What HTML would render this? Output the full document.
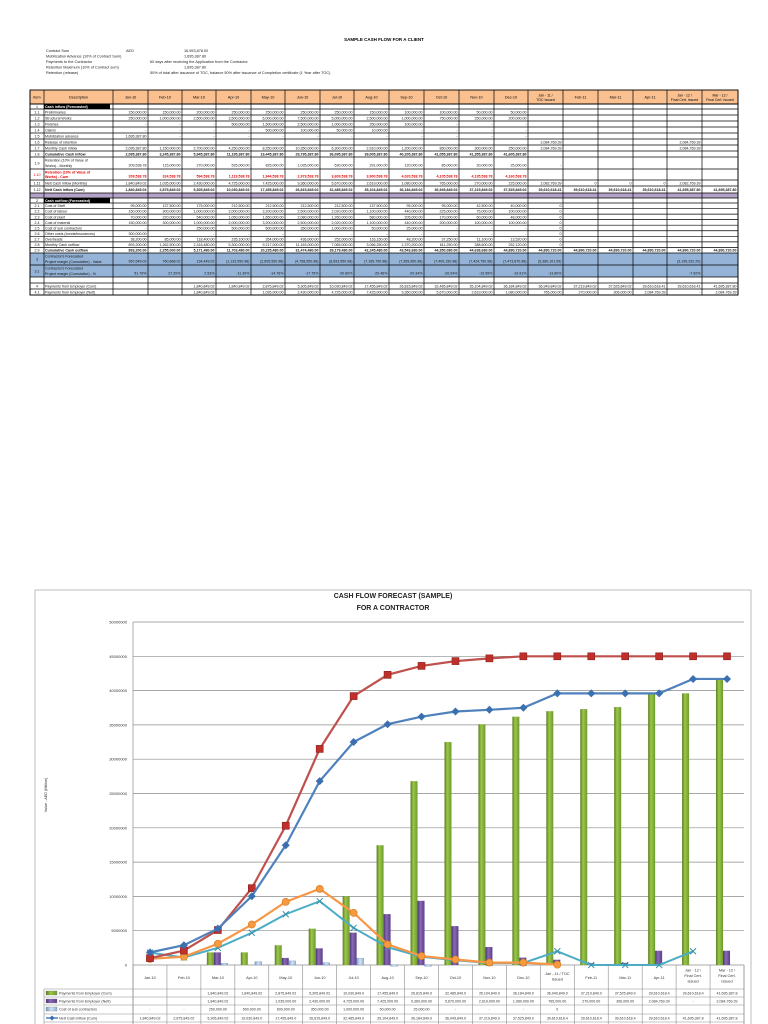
<!DOCTYPE html>
<html><head><meta charset="utf-8">
<style>
html,body{margin:0;padding:0;background:#fff;width:768px;height:1024px;overflow:hidden;font-family:"Liberation Sans",sans-serif;}
svg{position:absolute;left:0;top:0;}
</style></head>
<body>
<svg id="s" width="768" height="1024" viewBox="0 0 768 1024" xmlns="http://www.w3.org/2000/svg" font-family="Liberation Sans, sans-serif">
<defs>
<linearGradient id="gG" x1="0" x2="1"><stop offset="0" stop-color="#5a7a22"/><stop offset="0.4" stop-color="#9bc848"/><stop offset="1" stop-color="#6e9a2e"/></linearGradient>
<linearGradient id="gP" x1="0" x2="1"><stop offset="0" stop-color="#4a336e"/><stop offset="0.4" stop-color="#8a6ab8"/><stop offset="1" stop-color="#5a3f86"/></linearGradient>
<linearGradient id="gL" x1="0" x2="1"><stop offset="0" stop-color="#7a9cc8"/><stop offset="0.5" stop-color="#d6e4f4"/><stop offset="1" stop-color="#8fb0d6"/></linearGradient>
</defs>
<text x="384" y="41" font-size="4.5" font-weight="bold" text-anchor="middle">SAMPLE CASH FLOW FOR A CLIENT</text>
<g font-size="3.8" fill="#222">
<text x="46" y="52">Contract Sum</text><text x="126" y="52">AED</text><text x="184" y="52">16,953,878.00</text>
<text x="46" y="57.5">Mobilization Advance (10% of Contract Sum)</text><text x="184" y="57.5">1,695,387.80</text>
<text x="46" y="63">Payments to the Contractor</text><text x="150" y="63">60 days after receiving the Application from the Contractor</text>
<text x="46" y="68.5">Retention Maximum (10% of Contract sum)</text><text x="184" y="68.5">1,695,387.80</text>
<text x="46" y="74">Retention (release)</text><text x="150" y="74">50% of total after issuance of TOC, balance 50% after issuance of Completion certificate (1 Year after TOC)</text>
</g>
<g id="tbl"></g>
<rect x="35" y="590" width="716" height="440" fill="#fff" stroke="#bdbdbd" stroke-width="1"/>
<text x="393" y="598" font-size="7" font-weight="bold" text-anchor="middle" fill="#222">CASH FLOW FORECAST  (SAMPLE)</text>
<text x="393" y="610" font-size="7" font-weight="bold" text-anchor="middle" fill="#222">FOR A CONTRACTOR</text>
<text transform="translate(47,795) rotate(-90)" font-size="3.8" text-anchor="middle" fill="#333">Value - AED (Million)</text>
<g id="ch"></g>
</svg>
<script>
var NS="http://www.w3.org/2000/svg";
function el(p,t,a,txt){var e=document.createElementNS(NS,t);for(var k in a)e.setAttribute(k,a[k]);if(txt!==undefined)e.textContent=txt;p.appendChild(e);return e;}
var T=document.getElementById('tbl');
var cx=[30,44,113,148,182,216,251,285,320,354,389,424,459,494,528,563,598,633,667,702,738];
var hdr=["Item","Description","Jan-10","Feb-10","Mar-10","Apr-10","May-10","Jun-10","Jul-10","Aug-10","Sep-10","Oct-10","Nov-10","Dec-10","Jan - 11 / TOC Issued","Feb-11","Mar-11","Apr-11","Jan - 12 / Final Cert. Issued","Mar - 12 / Final Cert. Issued"];
function n(v){return v==null?"":v;}
var D="-";
var rows=[
["1","Cash inflow (Forecasted)",5,"h",[]],
["1.1","Preliminaries",6,"",["150,000.00","150,000.00","200,000.00","250,000.00","250,000.00","250,000.00","250,000.00","150,000.00","100,000.00","100,000.00","50,000.00","50,000.00"]],
["1.2","Structural Works",6,"",["250,000.00","1,000,000.00","2,500,000.00","3,500,000.00","6,000,000.00","7,500,000.00","5,000,000.00","2,500,000.00","1,000,000.00","750,000.00","250,000.00","200,000.00"]],
["1.3","Finishes",6,"",[D,D,D,"500,000.00","1,500,000.00","2,500,000.00","1,000,000.00","250,000.00","100,000.00",D,D,D]],
["1.4","Claims",6,"",[D,D,D,D,"500,000.00","100,000.00","50,000.00","10,000.00",D,D,D,D]],
["1.5","Mobilization advance",6,"",["1,695,387.80",D,D,D,D,D,D,D,D,D,D,D]],
["1.6","Release of retention",6,"",["","","","","","","","","","","","","2,084,769.39","","","","2,084,769.39",""]],
["1.7","Monthly Cash inflow",6,"",["2,095,387.80","1,150,000.00","2,700,000.00","4,250,000.00","8,250,000.00","10,350,000.00","6,300,000.00","2,910,000.00","1,200,000.00","850,000.00","300,000.00","250,000.00","2,084,769.39","","","","2,084,769.39",""]],
["1.8","Cumulative Cash inflow",6,"b",["2,095,387.80","3,245,387.80","5,945,387.80","11,195,387.80","19,445,387.80","29,795,387.80","36,095,387.80","39,005,387.80","40,205,387.80","41,055,387.80","41,355,387.80","41,605,387.80"]],
["1.9","Retention (10% of Value of Works) - Monthly",12,"",["209,538.78","115,000.00","270,000.00","525,000.00","825,000.00","1,035,000.00","630,000.00","291,000.00","120,000.00","85,000.00","30,000.00","25,000.00","-"]],
["1.10","Retention (10% of Value of Works) - Cum",11,"r",["209,538.78","324,538.78","594,538.78","1,119,538.78","1,944,538.78","2,979,538.78","3,609,538.78","3,900,538.78","4,020,538.78","4,105,538.78","4,135,538.78","4,160,538.78"]],
["1.11","Nett Cash inflow (Monthly)",6,"",["1,840,849.02","1,035,000.00","2,430,000.00","4,725,000.00","7,425,000.00","9,360,000.00","5,670,000.00","2,619,000.00","1,080,000.00","765,000.00","270,000.00","225,000.00","2,082,769.39","0","0","0","2,082,769.39",""]],
["1.12","Nett Cash inflow (Cum)",7,"b",["1,840,849.02","2,875,849.02","5,305,849.02","10,030,849.02","17,455,849.02","26,815,849.02","32,485,849.02","35,104,849.02","36,184,849.02","36,949,849.02","37,219,849.02","37,525,849.02","39,610,618.41","39,610,618.41","39,610,618.41","39,610,618.41","41,695,387.80","41,695,387.80"]],
["","",5,"band",[]],
["2","Cash outflow (Forecasted)",5,"h",[]],
["2.1","Cost of Staff",5.55,"",["95,000.00","137,500.00","175,000.00","212,500.00","212,500.00","212,500.00","212,500.00","137,500.00","95,000.00","95,000.00","42,500.00","40,000.00","0"]],
["2.2","Cost of labour",5.55,"",["150,000.00","300,000.00","1,000,000.00","2,000,000.00","3,200,000.00","2,500,000.00","2,020,000.00","1,100,000.00","440,000.00","225,000.00","75,000.00","100,000.00","0"]],
["2.3","Cost of plant",5.55,"",["70,000.00","220,000.00","540,000.00","1,050,000.00","1,650,000.00","2,080,000.00","1,260,000.00","580,000.00","205,000.00","170,000.00","60,000.00","48,000.00","0"]],
["2.4","Cost of material",5.55,"",["150,000.00","300,000.00","1,000,000.00","2,000,000.00","3,200,000.00","2,500,000.00","2,020,000.00","1,100,000.00","440,000.00","200,000.00","100,000.00","100,000.00","0"]],
["2.5","Cost of sub contractors",5.55,"",[D,D,"250,000.00","500,000.00","600,000.00","350,000.00","1,000,000.00","50,000.00","25,000.00",D,D,D,"0"]],
["2.6","Other costs (bonds/insurances)",5.55,"",["300,000.00",D,D,D,D,D,D,D,D,D,D,D,"0"]],
["2.7","Overheads",5.55,"",["38,200.00","85,000.00","118,400.00","235,100.00","354,000.00","436,000.00","252,000.00","116,150.00","48,200.00","37,250.00","11,100.00","13,520.00","0"]],
["2.8","Monthly Cash outflow",5.55,"",["893,200.00","1,262,500.00","2,316,480.00","5,300,000.00","9,217,000.00","11,163,000.00","7,065,000.00","3,066,250.00","1,370,200.00","611,250.00","288,600.00","252,120.00","0"]],
["2.9","Cumulative Cash outflow",5.6,"b",["893,200.00","2,255,000.00","5,171,480.00","11,703,480.00","20,235,480.00","31,474,480.00","39,179,480.00","42,245,480.00","43,543,680.00","44,350,080.00","44,638,680.00","44,890,720.00","44,890,720.00","44,890,720.00","44,890,720.00","44,890,720.00","44,890,720.00","44,890,720.00"]],
["3","Contractor's Forecasted Project margin (Cumulative) - Value",12,"blue",["957,649.02","760,668.02","134,449.02","(1,133,550.98)","(2,605,550.98)","(4,758,550.98)","(6,693,550.98)","(7,165,750.98)","(7,359,950.98)","(7,400,150.98)","(7,424,750.98)","(7,473,870.98)","(5,380,101.59)","","","","(3,195,332.20)",""]],
["3.1","Contractor's Forecasted Project margin (Cumulative) - %",12,"blue",["51.79%","27.20%","2.53%","-11.30%","-14.76%","-17.75%","-20.60%","-20.46%","-20.34%","-20.04%","-19.95%","-19.91%","-13.60%","","","","-7.92%",""]],
["","",6,"",[]],
["4","Payments from Employer (Cum)",6,"",["","","1,840,849.02","1,840,849.02","2,875,849.02","5,305,849.02","10,030,849.02","17,455,849.02","26,815,849.02","32,485,849.02","35,104,849.02","36,184,849.02","36,949,849.02","37,219,849.02","37,525,849.02","39,610,618.41","39,610,618.41","41,695,387.80"]],
["4.1","Payments from Employer (Nett)",6,"",["","","1,840,849.02","-","1,035,000.00","2,430,000.00","4,725,000.00","7,425,000.00","9,360,000.00","5,670,000.00","2,619,000.00","1,080,000.00","765,000.00","270,000.00","306,000.00","2,084,769.39","-","2,084,769.39"]]
];
// header
el(T,'rect',{x:30,y:90,width:708,height:14,fill:'#fac090'});
var y=104;
rows.forEach(function(r){
  var h=r[2],st=r[3];
  if(st=='band'){el(T,'rect',{x:30,y:y,width:708,height:h,fill:'#b3a2c7'});}
  if(st=='blue'){el(T,'rect',{x:30,y:y,width:708,height:h,fill:'#95b3d7'});}
  if(st=='h'){el(T,'rect',{x:44,y:y,width:66,height:h,fill:'#000'});}
  r.y=y;y+=h;
});
// grid lines
el(T,'rect',{x:30,y:90,width:708,height:y-90,fill:'none',stroke:'#000','stroke-width':0.9});
cx.forEach(function(x){el(T,'line',{x1:x,y1:90,x2:x,y2:y,stroke:'#000','stroke-width':0.7});});
el(T,'line',{x1:30,y1:104,x2:738,y2:104,stroke:'#000','stroke-width':0.9});
rows.forEach(function(r){el(T,'line',{x1:30,y1:r.y+r[2],x2:738,y2:r.y+r[2],stroke:'#000','stroke-width':0.7});});
hdr.forEach(function(t,i){
  var x=(cx[i]+cx[i+1])/2;
  if(t.length>12){var p=t.split(' / ');el(T,'text',{x:x,y:96.5,'font-size':3.5,'text-anchor':'middle'},p[0]+' /');el(T,'text',{x:x,y:101,'font-size':3.5,'text-anchor':'middle'},p[1]);}
  else el(T,'text',{x:x,y:98.5,'font-size':3.8,'text-anchor':'middle'},t);
});
rows.forEach(function(r){
  var yy=r.y,h=r[2],st=r[3];
  var col=st=='r'?'#e00000':(st=='h'?'#fff':'#111');
  var fw=(st=='b'||st=='r'||st=='h')?'bold':'normal';
  var ty=yy+h/2+1.4;
  if(r[0])el(T,'text',{x:37,y:ty,'font-size':3.6,'text-anchor':'middle',fill:st=='r'?'#e00000':'#111'},r[0]);
  var d=r[1];
  if(h>=11&&d.length>28){var k=d.lastIndexOf(' ',30);el(T,'text',{x:45,y:yy+4.5,'font-size':3.6,fill:col,'font-weight':fw},d.slice(0,k));el(T,'text',{x:45,y:yy+h-2,'font-size':3.6,fill:col,'font-weight':fw},d.slice(k+1));}
  else if(d)el(T,'text',{x:45,y:ty,'font-size':3.6,fill:col,'font-weight':fw},d);
  r[4].forEach(function(v,i){if(!v)return;el(T,'text',{x:cx[i+3]-1.5,y:(h>=11?yy+h-2.5:ty),'font-size':3.6,'text-anchor':'end',fill:col,'font-weight':fw},v);});
});
// chart
var C=document.getElementById('ch');
var L=133,R=744,Y0=965,S=6.86,W=(R-L)/18;
function Y(v){return Y0-v*S;}
function X(i){return L+W*(i+0.5);}
for(var g=0;g<=10;g++){var gy=Y(g*5);el(C,'line',{x1:L,y1:gy,x2:R,y2:gy,stroke:'#8c8c8c','stroke-width':0.7});el(C,'text',{x:127,y:gy+1.5,'font-size':4,'text-anchor':'end',fill:'#333'},g==0?'0':String(g*5000000));}
el(C,'line',{x1:L,y1:Y(50),x2:L,y2:1030,stroke:'#8c8c8c','stroke-width':0.7});
var cats=["Jan-10","Feb-10","Mar-10","Apr-10","May-10","Jun-10","Jul-10","Aug-10","Sep-10","Oct-10","Nov-10","Dec-10","Jan - 11 / TOC|Issued","Feb-11","Mar-11","Apr-11","Jan - 12 /|Final Cert.|Issued","Mar - 12 /|Final Cert.|Issued"];
var green=[0,0,1.84,1.84,2.88,5.3,10.03,17.46,26.8,32.5,35.1,36.2,37.0,37.3,37.6,39.6,39.6,41.7];
var purple=[0,0,1.84,0,1.03,2.43,4.72,7.42,9.36,5.67,2.62,1.08,0.77,0.27,0.31,2.08,0,2.08];
var lb=[0,0,0.25,0.5,0.6,0.35,1.0,0.05,0.025,0,0,0,0,0,0,0,0,0];
for(var i=0;i<18;i++){var c=X(i);
 if(green[i])el(C,'rect',{x:c-11,y:Y(green[i]),width:7,height:green[i]*S,fill:'url(#gG)'});
 if(purple[i])el(C,'rect',{x:c-4,y:Y(purple[i]),width:7,height:purple[i]*S,fill:'url(#gP)'});
 if(lb[i])el(C,'rect',{x:c+3,y:Y(lb[i]),width:7,height:Math.max(lb[i]*S,1.5),fill:'url(#gL)',stroke:'#6f8fbf','stroke-width':0.3});
}
function pts(a){return a.map(function(v,i){return X(i)+','+Y(v);}).join(' ');}
var red=[1,2.1,5.1,11.2,20.3,31.5,39.2,42.3,43.6,44.3,44.7,45,45,45,45,45,45,45];
var blue=[1.84,2.88,5.3,10.03,17.46,26.8,32.5,35.1,36.2,36.95,37.2,37.5,39.6,39.6,39.6,39.6,41.7,41.7];
var orng=[0.9,1.2,3.1,5.9,9.2,11.1,7.6,3.0,1.3,0.8,0.35,0.35,0.05];
var teal=[1.8,1.1,2.5,4.7,7.4,9.3,5.4,2.6,1.2,0.7,0.3,0.3,2.0,0,0,0,2.0];
el(C,'polyline',{points:pts(teal),fill:'none',stroke:'#4bacc6','stroke-width':2});
teal.forEach(function(v,i){var x=X(i),yy=Y(v);el(C,'path',{d:'M'+(x-3)+','+(yy-3)+'L'+(x+3)+','+(yy+3)+'M'+(x+3)+','+(yy-3)+'L'+(x-3)+','+(yy+3),stroke:'#3a8fa8','stroke-width':1});});
el(C,'polyline',{points:pts(orng),fill:'none',stroke:'#f79646','stroke-width':2.2});
orng.forEach(function(v,i){el(C,'circle',{cx:X(i),cy:Y(v),r:3.6,fill:'#f59a3e',stroke:'#d4761c','stroke-width':0.6});});
el(C,'polyline',{points:pts(red),fill:'none',stroke:'#c0504d','stroke-width':2.2});
red.forEach(function(v,i){el(C,'rect',{x:X(i)-3.5,y:Y(v)-3.5,width:7,height:7,fill:'#c0302b',stroke:'#8a1f1c','stroke-width':0.6});});
el(C,'polyline',{points:pts(blue),fill:'none',stroke:'#4f81bd','stroke-width':2.2});
blue.forEach(function(v,i){var x=X(i),yy=Y(v);el(C,'path',{d:'M'+x+','+(yy-4)+'L'+(x+4)+','+yy+'L'+x+','+(yy+4)+'L'+(x-4)+','+yy+'Z',fill:'#3a6fb0'});});
// x axis and data table
var ry=[965,989,997,1005,1014,1022,1031];
for(var i=0;i<=18;i++){var x=L+W*i;el(C,'line',{x1:x,y1:965,x2:x,y2:1030,stroke:'#8c8c8c','stroke-width':0.6});}
for(var k=1;k<ry.length-1;k++)el(C,'line',{x1:44,y1:ry[k],x2:R,y2:ry[k],stroke:'#8c8c8c','stroke-width':0.6});
el(C,'line',{x1:44,y1:989,x2:44,y2:1030,stroke:'#8c8c8c','stroke-width':0.6});
el(C,'line',{x1:R,y1:965,x2:R,y2:1030,stroke:'#8c8c8c','stroke-width':0.6});
cats.forEach(function(t,i){var p=t.split('|');var y0=p.length==1?979:(p.length==2?975:971.5);p.forEach(function(s,j){el(C,'text',{x:X(i),y:y0+j*5.5,'font-size':3.8,'text-anchor':'middle',fill:'#333'},s);});});
var legs=[["Payments from Employer (Cum)","url(#gG)"],["Payments from Employer (Nett)","url(#gP)"],["Cost of sub contractors","url(#gL)"],["Nett Cash inflow (Cum)","line"]];
var tv=[
["","","1,840,849.02","1,840,849.02","2,875,849.02","5,305,849.02","10,030,849.0","17,455,849.0","26,815,849.0","32,485,849.0","35,104,849.0","36,184,849.0","36,949,849.0","37,219,849.0","37,525,849.0","39,610,618.4","39,610,618.4","41,695,387.8"],
["","","1,840,849.02","-","1,035,000.00","2,430,000.00","4,725,000.00","7,425,000.00","9,360,000.00","5,670,000.00","2,619,000.00","1,080,000.00","765,000.00","270,000.00","306,000.00","2,084,769.39","-","2,084,769.39"],
["-","-","250,000.00","500,000.00","600,000.00","350,000.00","1,000,000.00","50,000.00","25,000.00","-","-","-","0","","","","",""],
["1,840,849.02","2,875,849.02","5,305,849.02","10,030,849.0","17,455,849.0","26,815,849.0","32,485,849.0","35,104,849.0","36,184,849.0","36,949,849.0","37,219,849.0","37,525,849.0","39,610,618.4","39,610,618.4","39,610,618.4","39,610,618.4","41,695,387.8","41,695,387.8"]];
legs.forEach(function(l,k){var yy=ry[k+1];
 if(l[1]=='line'){el(C,'line',{x1:46,y1:yy+4,x2:58,y2:yy+4,stroke:'#4f81bd','stroke-width':1.5});el(C,'path',{d:'M52,'+(yy+1.5)+'l2.5,2.5l-2.5,2.5l-2.5,-2.5z',fill:'#3a6fb0'});}
 else el(C,'rect',{x:46,y:yy+2,width:11,height:4,fill:l[1],stroke:'#777','stroke-width':0.3});
 el(C,'text',{x:59,y:yy+5.5,'font-size':3.7,fill:'#333'},l[0]);
 tv[k].forEach(function(v,i){if(v)el(C,'text',{x:X(i),y:yy+5.5,'font-size':3.6,'text-anchor':'middle',fill:'#333'},v);});
});
</script>
</body></html>
